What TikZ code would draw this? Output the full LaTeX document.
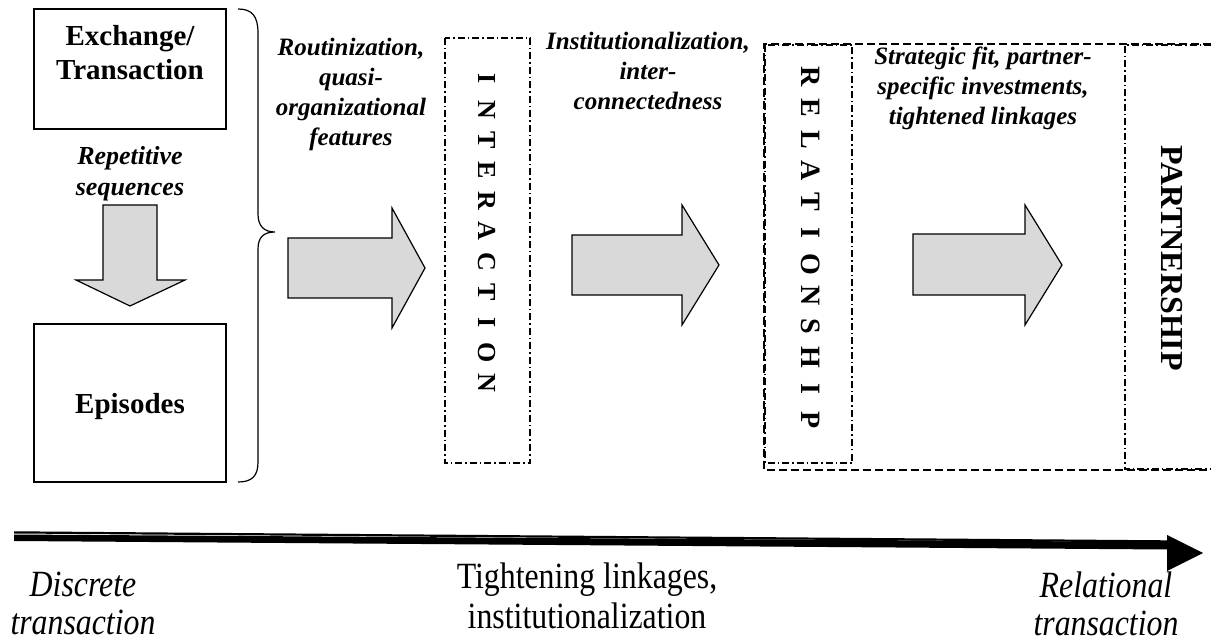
\documentclass[tikz,border=0pt]{standalone}
\usepackage{fontspec}
\setmainfont{Liberation Serif}
\newfontfamily\narrowserif[FakeStretch=0.86]{Liberation Serif}
\begin{document}
\begin{tikzpicture}[x=1pt,y=-1pt,line join=miter,
  box/.style={draw,line width=1.2pt,inner sep=0},
  blockarrow/.style={draw,line width=1.2pt,fill=gray!30,line join=miter},
  dashdotbox/.style={line width=1.6pt,dash pattern=on 7pt off 3pt on 1.5pt off 3pt},
  longdash/.style={line width=1.8pt,dash pattern=on 8pt off 4pt},
  boxtxt/.style={font=\fontsize{29}{34}\selectfont\bfseries,align=center,inner sep=0},
  lab/.style={font=\fontsize{25}{30}\selectfont\bfseries\itshape,align=center,inner sep=0,anchor=north},
  bottxt/.style={font=\narrowserif\fontsize{37}{40}\selectfont,align=center,inner sep=0,anchor=north},
  botital/.style={bottxt,font=\narrowserif\fontsize{37}{38}\selectfont\itshape},
  vletter/.style={font=\fontsize{#1}{#1}\selectfont\bfseries,rotate=-90,inner sep=0}]
\useasboundingbox (0,0) rectangle (1211,644);

% left boxes
\node[box,minimum width=192pt,minimum height=120pt] (exch) at (130,69) {};
\node[boxtxt,anchor=north] (exchtxt) at (130,25) {Exchange/\\Transaction};
\node[box,minimum width=192pt,minimum height=158pt] (epi) at (130,403) {};
\node[boxtxt] (epitxt) at (130,407) {Episodes};
\node[lab,font=\fontsize{26}{31}\selectfont\bfseries\itshape] (rep) at (130,146) {Repetitive\\sequences};
\draw[blockarrow] (103,205) -- (157,205) -- (157,280) -- (185,280) -- (130,306) -- (76,280) -- (103,280) -- cycle;

% brace
\draw[line width=1.2pt] (238,9) .. controls (252,9) and (258,16) .. (258,33) -- (258,214)
  .. controls (258,226) and (264,232) .. (275,232) .. controls (264,232) and (258,237) .. (258,249)
  -- (258,462) .. controls (258,476) and (252,482) .. (238,482);

% labels
\node[lab] (rout) at (351,38) {Routinization,\\quasi-\\organizational\\features};
\node[lab] (inst) at (648,32) {Institutionalization,\\inter-\\connectedness};
\node[lab] (strat) at (983,47) {Strategic fit, partner-\\specific investments,\\tightened linkages};

% block arrows
\draw[blockarrow] (288,238) -- (392,238) -- (392,208) -- (425,268) -- (392,328) -- (392,298) -- (288,298) -- cycle;
\draw[blockarrow] (572,235) -- (682,235) -- (682,205) -- (719,265) -- (682,325) -- (682,295) -- (572,295) -- cycle;
\draw[blockarrow] (913,234) -- (1025,234) -- (1025,205) -- (1062,265) -- (1025,325) -- (1025,295) -- (913,295) -- cycle;

% INTERACTION
\draw[dashdotbox] (445,38) rectangle (530,463);
\foreach \l [count=\i from 0] in {I,N,T,E,R,A,C,T,I,O,N}
  \node[vletter=26] (ia\i) at (487,79+30.4*\i) {\l};

% RELATIONSHIP / big dashed box
\draw[longdash] (1211,44) -- (764,44) -- (764,470) -- (1211,470);
\draw[dashdotbox] (765,45) rectangle (852,463);
\foreach \l [count=\i from 0] in {R,E,L,A,T,I,O,N,S,H,I,P}
  \node[vletter=28] (rl\i) at (811,77+31.2*\i) {\l};

% PARTNERSHIP
\draw[dashdotbox] (1211,45) -- (1125,45) -- (1125,469) -- (1211,469);
\node[vletter=32] (part) at (1172,258) {PARTNERSHIP};

% bottom arrow
\coordinate (tl) at (14,533.5);
\coordinate (tr) at (1167,542.5);
\coordinate (kl) at (14,541);
\coordinate (kr) at (1167,549.5);
\coordinate (tip) at (1203,553);
\fill (tl) -- (tr) -- ([yshift=2.2pt]tr) -- ([yshift=2.2pt]tl) -- cycle;
\fill (kl) -- (kr) -- ([yshift=7.5pt]kr) -- ([yshift=6.5pt]kl) -- cycle;
\fill (1167,535) -- (tip) -- (1167,571) -- cycle;

% bottom labels
\node[botital] (disc) at (83,572) {Discrete\\transaction};
\node[bottxt] (tight) at (587,563) {Tightening linkages,\\institutionalization};
\node[botital] (rel) at (1106,572) {Relational\\transaction};
\end{tikzpicture}
\end{document}
